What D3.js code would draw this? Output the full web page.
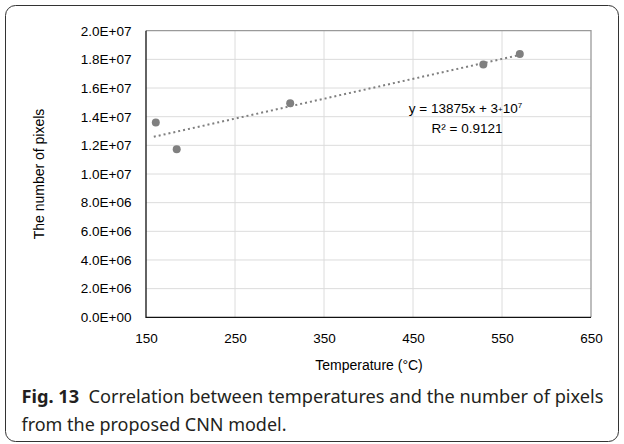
<!DOCTYPE html>
<html>
<head>
<meta charset="utf-8">
<script src="https://cdn.jsdelivr.net/npm/d3@7"></script>
<style>
  body { margin: 0; background: #fff; }
  svg { display: block; }
  .tick-label { font-family: "Liberation Sans", Arial, sans-serif; font-size: 13.5px; fill: #000; }
  .axis-title { font-family: "Liberation Sans", Arial, sans-serif; font-size: 14px; fill: #000; }
  .caption { font-family: "Noto Sans", "Open Sans", sans-serif; font-size: 18.2px; fill: #231f20; }
</style>
</head>
<body>
<svg id="chart" width="624" height="444"></svg>
<script>
const temperatures = [161, 184.5, 312, 529, 570];
const pixelCounts = [13.6e6, 11.72e6, 14.93e6, 17.65e6, 18.37e6];
const xTicks = [150, 250, 350, 450, 550, 650];
const yTicks = [0, 2e6, 4e6, 6e6, 8e6, 10e6, 12e6, 14e6, 16e6, 18e6, 20e6];
const captionLines = [
  { bold: "Fig. 13", rest: "  Correlation between temperatures and the number of pixels", width: 582 },
  { bold: "", rest: "from the proposed CNN model.", width: 265 }
];

const svg = d3.select("#chart");
const plot = { left: 146, right: 591, top: 30.7, bottom: 317.3 };

const x = d3.scaleLinear().domain([150, 650]).range([plot.left, plot.right]);
const y = d3.scaleLinear().domain([0, 2e7]).range([plot.bottom, plot.top]);

function sciLabel(v) {
  if (v === 0) return "0.0E+00";
  const exp = Math.floor(Math.log10(v));
  const mant = v / Math.pow(10, exp);
  return `${mant.toFixed(1)}E+${String(exp).padStart(2, "0")}`;
}

// outer frame
svg.append("rect")
  .attr("x", 5.5).attr("y", 5.5)
  .attr("width", 613).attr("height", 436)
  .attr("rx", 10)
  .attr("fill", "none")
  .attr("stroke", "#333")
  .attr("stroke-width", 1);

// grid
const grid = svg.append("g");
grid.selectAll("line.v")
  .data(xTicks.slice(1, -1))
  .join("line")
  .attr("x1", (d) => x(d)).attr("x2", (d) => x(d))
  .attr("y1", plot.top).attr("y2", plot.bottom)
  .attr("stroke", "#dcdcdc").attr("stroke-width", 1);
grid.selectAll("line.h")
  .data(yTicks.slice(1, -1))
  .join("line")
  .attr("x1", plot.left).attr("x2", plot.right)
  .attr("y1", (d) => y(d)).attr("y2", (d) => y(d))
  .attr("stroke", "#dcdcdc").attr("stroke-width", 1);

// plot border: top/right grey, left/bottom black axes
svg.append("path")
  .attr("d", `M${plot.left},${plot.top}H${plot.right}V${plot.bottom}`)
  .attr("fill", "none").attr("stroke", "#9a9a9a").attr("stroke-width", 1.3);
svg.append("path")
  .attr("d", `M${plot.left},${plot.top}V${plot.bottom}H${plot.right}`)
  .attr("fill", "none").attr("stroke", "#111").attr("stroke-width", 1.3);

// axes via d3 (lines hidden, labels only)
const yAxis = svg.append("g")
  .attr("transform", `translate(${plot.left - 14.5},0)`)
  .call(d3.axisLeft(y).tickValues(yTicks).tickFormat(sciLabel).tickSize(0));
yAxis.select(".domain").remove();
yAxis.selectAll("text").attr("class", "tick-label").attr("x", 0).attr("font-size", null).attr("font-family", null);

const xAxis = svg.append("g")
  .attr("transform", `translate(0,${plot.bottom + 26})`)
  .call(d3.axisBottom(x).tickValues(xTicks).tickFormat(d3.format("d")).tickSize(0));
xAxis.select(".domain").remove();
xAxis.selectAll("text").attr("class", "tick-label").attr("y", 0).attr("dy", 0).attr("font-size", null).attr("font-family", null);

// trendline (least squares)
const mx = d3.mean(temperatures);
const my = d3.mean(pixelCounts);
let sxy = 0, sxx = 0;
temperatures.forEach((t, i) => {
  sxy += (t - mx) * (pixelCounts[i] - my);
  sxx += (t - mx) * (t - mx);
});
const slope = sxy / sxx;
const intercept = my - slope * mx;
const [tMin, tMax] = d3.extent(temperatures);
svg.append("line")
  .attr("x1", x(tMin) - 2).attr("y1", y(intercept + slope * tMin))
  .attr("x2", x(tMax)).attr("y2", y(intercept + slope * tMax))
  .attr("stroke", "#7f7f7f").attr("stroke-width", 2)
  .attr("stroke-dasharray", "2 3");

// points
svg.append("g").selectAll("circle")
  .data(temperatures.map((t, i) => ({ t, v: pixelCounts[i] })))
  .join("circle")
  .attr("cx", (d) => x(d.t))
  .attr("cy", (d) => y(d.v))
  .attr("r", 4)
  .attr("fill", "#808080");

// equation label
const eq = svg.append("text").attr("class", "tick-label").attr("x", 465.5).attr("y", 113).attr("text-anchor", "middle");
eq.append("tspan").text("y = 13875x + 3");
eq.append("tspan").attr("font-size", 8).attr("dy", -1).text("+");
eq.append("tspan").attr("dy", 1).text("10");
eq.append("tspan").attr("font-size", 8).attr("dy", -5).text("7");
svg.append("text").attr("class", "tick-label")
  .attr("x", 467).attr("y", 133).attr("text-anchor", "middle")
  .text("R² = 0.9121");

// axis titles
svg.append("text").attr("class", "axis-title")
  .attr("x", 369).attr("y", 370).attr("text-anchor", "middle")
  .text("Temperature (°C)");
svg.append("text").attr("class", "axis-title")
  .attr("transform", `translate(44,${(plot.top + plot.bottom) / 2}) rotate(-90)`)
  .attr("text-anchor", "middle")
  .text("The number of pixels");

// caption
captionLines.forEach((line, i) => {
  const t = svg.append("text").attr("class", "caption")
    .attr("x", 21.5).attr("y", 402.5 + i * 28)
    .attr("xml:space", "preserve")
    .attr("textLength", line.width)
    .attr("lengthAdjust", "spacingAndGlyphs");
  if (line.bold) t.append("tspan").attr("font-weight", "bold").text(line.bold);
  t.append("tspan").text(line.rest);
});
</script>
</body>
</html>
